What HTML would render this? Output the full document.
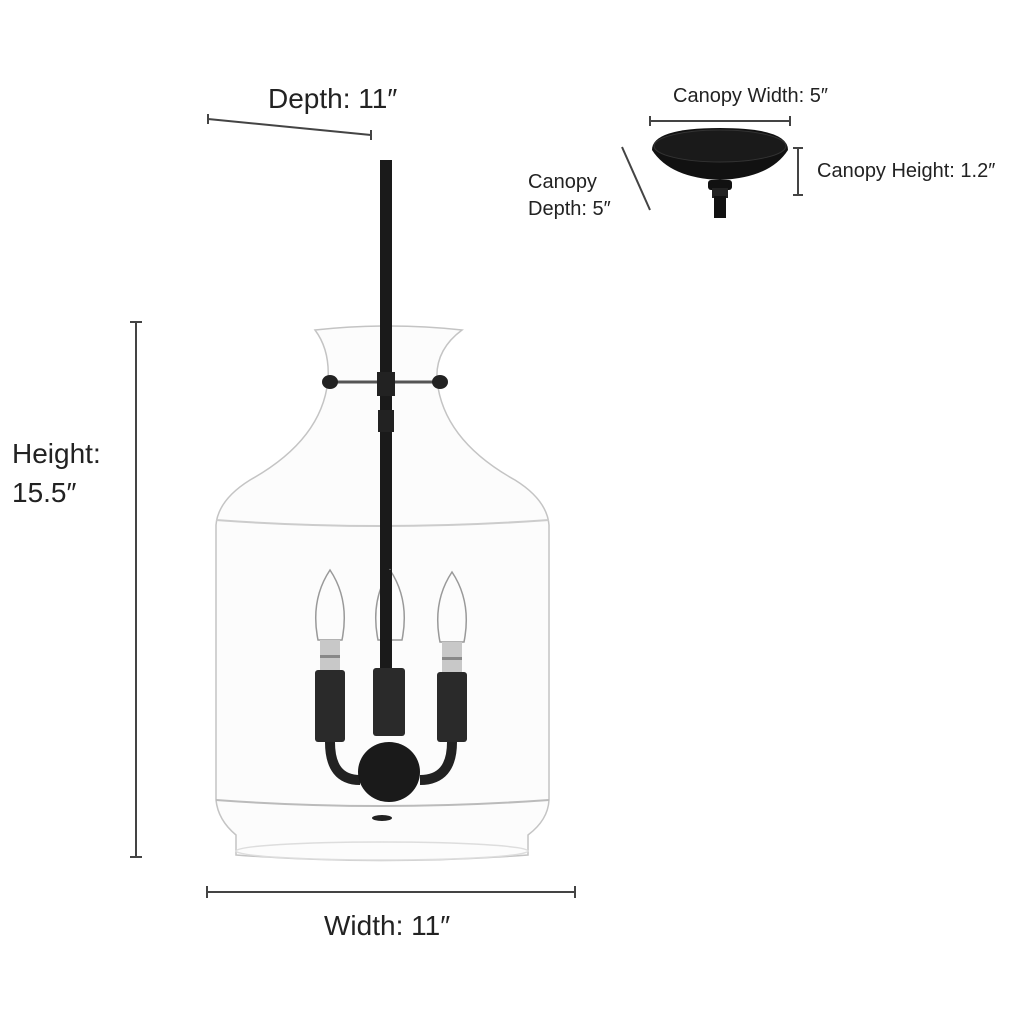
<!DOCTYPE html>
<html><head><meta charset="utf-8"><style>
html,body{margin:0;padding:0;background:#fff;}
svg{display:block;}
text{font-family:"Liberation Sans",sans-serif;fill:#222;}
</style></head><body>
<svg width="1024" height="1024" viewBox="0 0 1024 1024" xmlns="http://www.w3.org/2000/svg">
<rect width="1024" height="1024" fill="#fff"/>
<!-- Depth -->
<text x="268" y="108" font-size="28">Depth: 11″</text>
<line x1="208" y1="119" x2="371" y2="135" stroke="#444" stroke-width="2"/>
<line x1="208" y1="114" x2="208" y2="124" stroke="#444" stroke-width="2"/>
<line x1="371" y1="130" x2="371" y2="140" stroke="#444" stroke-width="2"/>
<!-- Canopy -->
<text x="673" y="102" font-size="20">Canopy Width: 5″</text>
<line x1="650" y1="121" x2="790" y2="121" stroke="#444" stroke-width="2"/>
<line x1="650" y1="116" x2="650" y2="126" stroke="#444" stroke-width="2"/>
<line x1="790" y1="116" x2="790" y2="126" stroke="#444" stroke-width="2"/>
<text x="528" y="188" font-size="20">Canopy</text>
<text x="528" y="215" font-size="20">Depth: 5″</text>
<line x1="622" y1="147" x2="650" y2="210" stroke="#444" stroke-width="2"/>
<text x="817" y="177" font-size="20">Canopy Height: 1.2″</text>
<line x1="798" y1="148" x2="798" y2="195" stroke="#444" stroke-width="2"/>
<line x1="793" y1="148" x2="803" y2="148" stroke="#444" stroke-width="2"/>
<line x1="793" y1="195" x2="803" y2="195" stroke="#444" stroke-width="2"/>
<path d="M652 150 Q652 128 720 128 Q788 128 788 150 Q770 178 720 180 Q670 178 652 150 Z" fill="#111"/>
<ellipse cx="720" cy="146" rx="66" ry="16" fill="#1a1a1a" stroke="#333"/>
<rect x="708" y="180" width="24" height="10" rx="3" fill="#111"/>
<rect x="712" y="188" width="16" height="10" fill="#222"/>
<rect x="714" y="196" width="12" height="22" fill="#111"/>
<!-- Height -->
<text x="12" y="463" font-size="28">Height:</text>
<text x="12" y="502" font-size="28">15.5″</text>
<line x1="136" y1="322" x2="136" y2="857" stroke="#444" stroke-width="2"/>
<line x1="130" y1="322" x2="142" y2="322" stroke="#444" stroke-width="2"/>
<line x1="130" y1="857" x2="142" y2="857" stroke="#444" stroke-width="2"/>
<!-- Width -->
<line x1="207" y1="892" x2="575" y2="892" stroke="#444" stroke-width="2"/>
<line x1="207" y1="886" x2="207" y2="898" stroke="#444" stroke-width="2"/>
<line x1="575" y1="886" x2="575" y2="898" stroke="#444" stroke-width="2"/>
<text x="324" y="935" font-size="28">Width: 11″</text>
<!-- Glass -->
<path d="M315 330 Q330 350 328 380 Q322 440 250 480 Q218 500 216 525 L216 800 Q218 820 236 835 L236 855 Q380 866 528 855 L528 835 Q548 820 549 800 L549 525 Q547 500 515 480 Q443 440 437 380 Q435 350 462 330 Q390 322 315 330 Z" fill="#fcfcfc" stroke="#c4c4c4" stroke-width="1.5"/>
<path d="M216 520 Q380 532 549 520" fill="none" stroke="#ccc" stroke-width="2"/>
<path d="M216 800 Q380 812 549 800" fill="none" stroke="#bbb" stroke-width="2"/>
<ellipse cx="382" cy="851" rx="146" ry="9" fill="none" stroke="#ddd" stroke-width="1.5"/>
<!-- crossbar -->
<line x1="330" y1="382" x2="440" y2="382" stroke="#555" stroke-width="3"/>
<ellipse cx="330" cy="382" rx="8" ry="7" fill="#222"/>
<ellipse cx="440" cy="382" rx="8" ry="7" fill="#222"/>
<!-- rod -->
<rect x="380" y="160" width="12" height="420" fill="#1a1a1a"/>
<rect x="377" y="372" width="18" height="24" fill="#222"/>
<rect x="378" y="410" width="16" height="22" fill="#222"/>
<!-- bulbs -->
<g fill="#fcfcfc" stroke="#999" stroke-width="1.5">
<path d="M330 570 Q310 600 318 640 L342 640 Q350 600 330 570 Z"/>
<path d="M390 570 Q370 600 378 640 L402 640 Q410 600 390 570 Z"/>
<path d="M452 572 Q432 602 440 642 L464 642 Q472 602 452 572 Z"/>
</g>
<rect x="380" y="570" width="12" height="100" fill="#1a1a1a"/>
<g fill="#c8c8c8"><rect x="320" y="640" width="20" height="30"/><rect x="442" y="642" width="20" height="30"/></g>
<g fill="#888"><rect x="320" y="655" width="20" height="3"/><rect x="442" y="657" width="20" height="3"/></g>
<!-- sockets -->
<g fill="#2a2a2a">
<rect x="315" y="670" width="30" height="72" rx="3"/>
<rect x="373" y="668" width="32" height="68" rx="3"/>
<rect x="437" y="672" width="30" height="70" rx="3"/>
</g>
<path d="M330 742 Q330 780 360 780 M452 742 Q452 780 420 780" fill="none" stroke="#222" stroke-width="10"/>
<ellipse cx="389" cy="772" rx="31" ry="30" fill="#1a1a1a"/>
<ellipse cx="382" cy="818" rx="10" ry="3" fill="#222"/>
</svg>
</body></html>
